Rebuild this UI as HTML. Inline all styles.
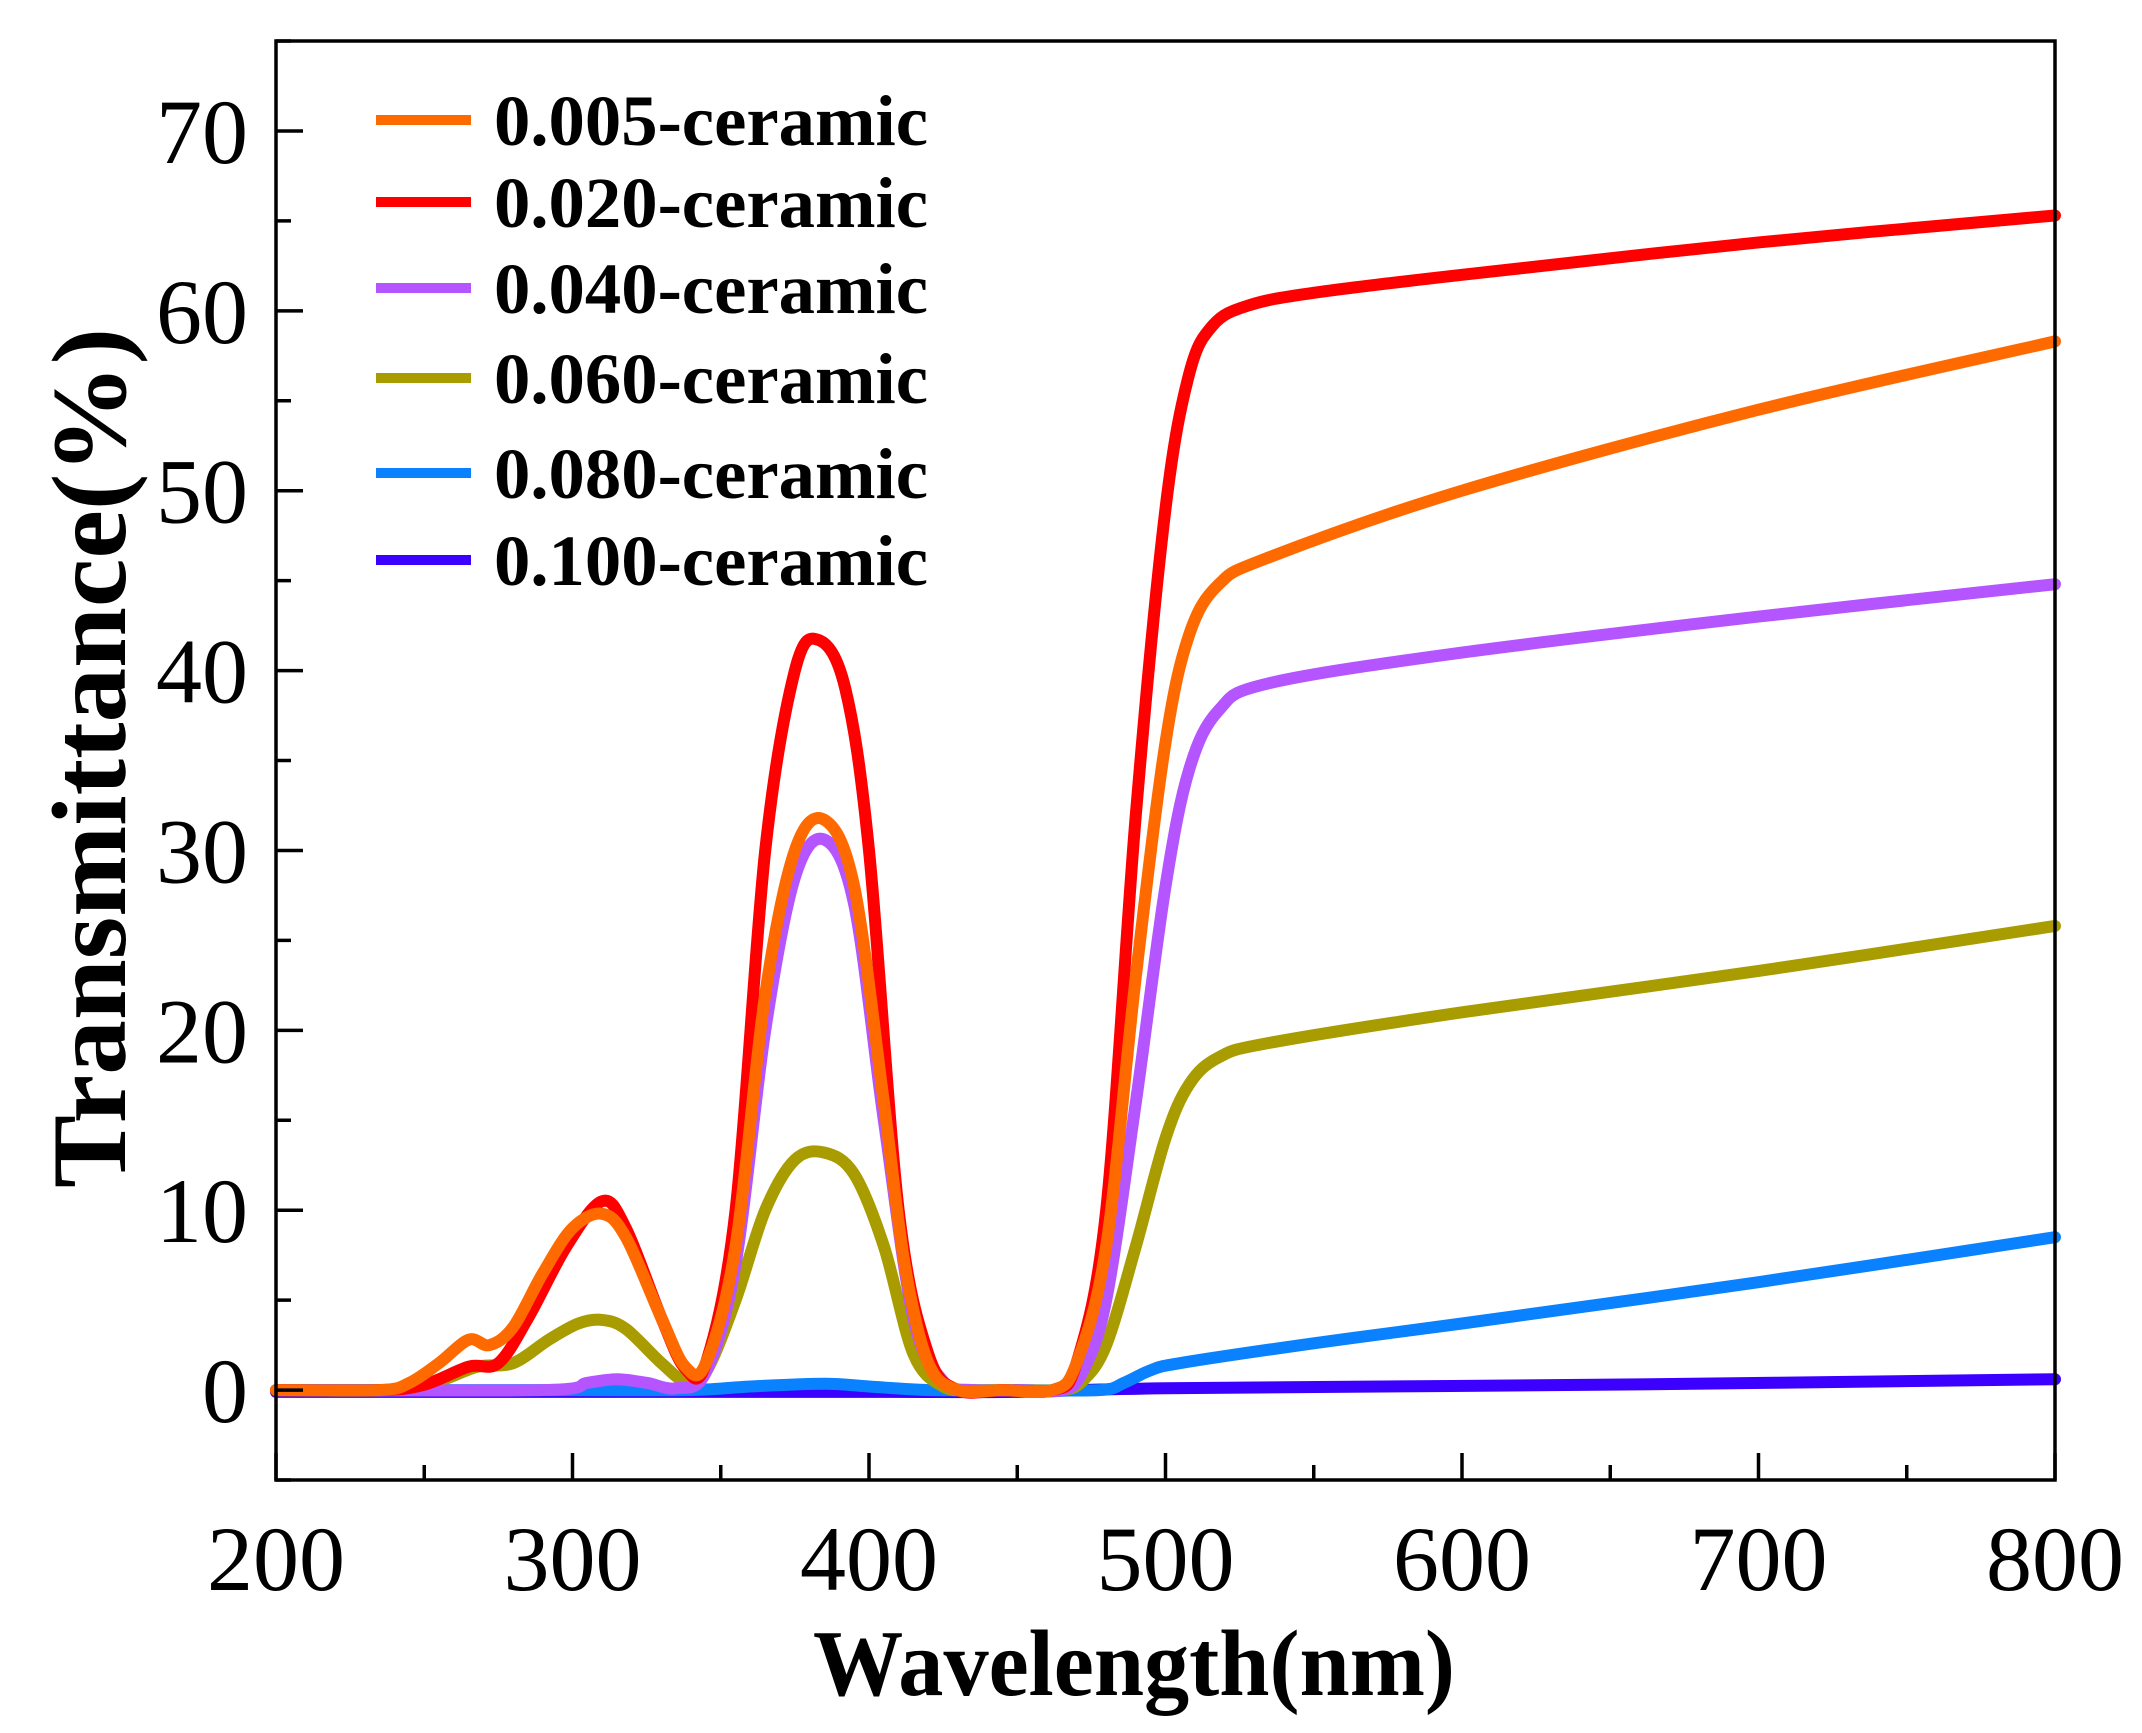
<!DOCTYPE html>
<html><head><meta charset="utf-8"><style>
html,body{margin:0;padding:0;background:#fff;}
svg{display:block;}
</style></head><body>
<svg id="s" width="2142" height="1733" xmlns="http://www.w3.org/2000/svg">
<rect width="2142" height="1733" fill="#fff"/>
<g id="curves" fill="none" stroke-width="12" stroke-linejoin="round" stroke-linecap="round"></g>
<g id="axes" stroke="#000" stroke-width="3.5" fill="none"></g>
<g font-family="Liberation Serif, serif" font-size="92" fill="#000" id="labels"></g>
<g font-family="Liberation Serif, serif" font-weight="bold" font-size="72" fill="#000">
<line x1="376" y1="120" x2="471" y2="120" stroke="#ff6a00" stroke-width="10"/>
<text x="494" y="145" textLength="434" lengthAdjust="spacingAndGlyphs">0.005-ceramic</text>
<line x1="376" y1="202" x2="471" y2="202" stroke="#ff0000" stroke-width="10"/>
<text x="494" y="227" textLength="434" lengthAdjust="spacingAndGlyphs">0.020-ceramic</text>
<line x1="376" y1="288" x2="471" y2="288" stroke="#b455ff" stroke-width="10"/>
<text x="494" y="313" textLength="434" lengthAdjust="spacingAndGlyphs">0.040-ceramic</text>
<line x1="376" y1="378" x2="471" y2="378" stroke="#a89c00" stroke-width="10"/>
<text x="494" y="403" textLength="434" lengthAdjust="spacingAndGlyphs">0.060-ceramic</text>
<line x1="376" y1="473" x2="471" y2="473" stroke="#0a82ff" stroke-width="10"/>
<text x="494" y="498" textLength="434" lengthAdjust="spacingAndGlyphs">0.080-ceramic</text>
<line x1="376" y1="560" x2="471" y2="560" stroke="#3c00ff" stroke-width="10"/>
<text x="494" y="585" textLength="434" lengthAdjust="spacingAndGlyphs">0.100-ceramic</text>
</g>
<text x="1134" y="1695" text-anchor="middle" font-family="Liberation Serif, serif" font-weight="bold" font-size="94" textLength="642" lengthAdjust="spacingAndGlyphs">Wavelength(nm)</text>
<text transform="translate(125,758) rotate(-90)" text-anchor="middle" font-family="Liberation Serif, serif" font-weight="bold" font-size="106" textLength="860" lengthAdjust="spacingAndGlyphs">Transmittance(%)</text>
</svg>
<script>
const L=276,R=2055,T=41,B=1480;
const X=w=>L+(w-200)*(R-L)/600, Y=v=>B-(v+5)*(B-T)/80;
const ns="http://www.w3.org/2000/svg";
function el(p,t,a,txt){const e=document.createElementNS(ns,t);for(const k in a)e.setAttribute(k,a[k]);if(txt!==undefined)e.textContent=txt;p.appendChild(e);return e;}
function path(pts){const P=pts.map(p=>[X(p[0]),Y(p[1])]);let d="M"+P[0][0]+","+P[0][1];
for(let i=0;i<P.length-1;i++){const p0=P[i-1]||P[i],p1=P[i],p2=P[i+1],p3=P[i+2]||p2;
const c1=[p1[0]+(p2[0]-p0[0])/6,p1[1]+(p2[1]-p0[1])/6],c2=[p2[0]-(p3[0]-p1[0])/6,p2[1]-(p3[1]-p1[1])/6];
d+=` C${c1[0]},${c1[1]} ${c2[0]},${c2[1]} ${p2[0]},${p2[1]}`;}return d;}
const S=[
["#3c00ff",[[200,-0.1],[300,-0.1],[400,-0.1],[450,-0.1],[500,0.1],[650,0.3],[800,0.6]]],
["#0a82ff",[[200,0],[300,0],[340,0],[360,0.2],[385,0.35],[400,0.2],[420,0],[450,0],[478,0],[486,0.4],[495,1.1],[505,1.5],[550,2.6],[600,3.7],[700,6],[800,8.5]]],
["#a89c00",[[200,0],[240,0],[255,0.5],[268,1.3],[280,1.5],[292,2.8],[302,3.7],[310,3.9],[318,3.4],[330,1.5],[338,0.5],[345,1],[355,5],[365,10],[375,12.8],[385,13.2],[395,12],[405,8],[415,2],[425,0.2],[435,0],[450,0],[465,0],[472,0.5],[480,2.5],[490,8],[500,14],[508,17],[518,18.5],[535,19.3],[600,21],[700,23.3],[800,25.8]]],
["#b455ff",[[200,0],[290,0],[305,0.4],[315,0.6],[325,0.4],[335,0.1],[345,1],[355,7],[365,20],[375,28.5],[385,30.6],[395,27],[405,15],[415,4],[425,0.5],[435,0],[450,0],[465,0],[472,1],[480,5],[490,16],[500,28],[508,34.5],[518,37.8],[535,39.3],[600,41],[700,43],[800,44.8]]],
["#ff0000",[[200,0],[235,0],[250,0.3],[265,1.3],[275,1.5],[285,4],[298,8],[310,10.5],[318,9],[330,4],[338,1.2],[345,1.5],[355,10],[365,30],[375,40],[383,41.7],[392,39],[400,30],[410,10],[420,2],[430,0],[445,0],[462,0],[470,1.5],[480,10],[490,32],[500,49],[508,56.5],[516,59.2],[528,60.3],[550,61],[600,62],[700,63.8],[800,65.3]]],
["#ff6a00",[[200,0],[235,0],[245,0.4],[255,1.5],[265,2.8],[272,2.5],[280,3.5],[290,6.5],[300,9],[310,9.8],[318,8.5],[330,4],[338,1.3],[345,1.5],[355,8],[365,22],[375,30],[385,31.7],[395,28],[405,16],[412,7],[420,1.5],[430,0],[445,0],[462,0],[470,1.5],[480,8],[490,23],[500,36],[508,42],[518,44.8],[535,46.3],[600,50],[700,54.5],[800,58.3]]]];
const cg=document.getElementById("curves");
S.forEach(s=>el(cg,"path",{d:path(s[1]),stroke:s[0]}));
const ag=document.getElementById("axes");
el(ag,"rect",{x:L,y:T,width:R-L,height:B-T});
const lg=document.getElementById("labels");
for(let v=-5;v<=75;v+=5){const y=Y(v),maj=v%10===0;el(ag,"line",{x1:L,y1:y,x2:L+(maj?27:15),y2:y});
if(maj&&v>=0&&v<=70)el(lg,"text",{x:L-28,y:y+32,"text-anchor":"end"},String(v));}
for(let w=200;w<=800;w+=50){const x=X(w),maj=w%100===0;el(ag,"line",{x1:x,y1:B,x2:x,y2:B-(maj?27:15)});
if(maj)el(lg,"text",{x:x,y:1590,"text-anchor":"middle"},String(w));}
</script>
</body></html>
